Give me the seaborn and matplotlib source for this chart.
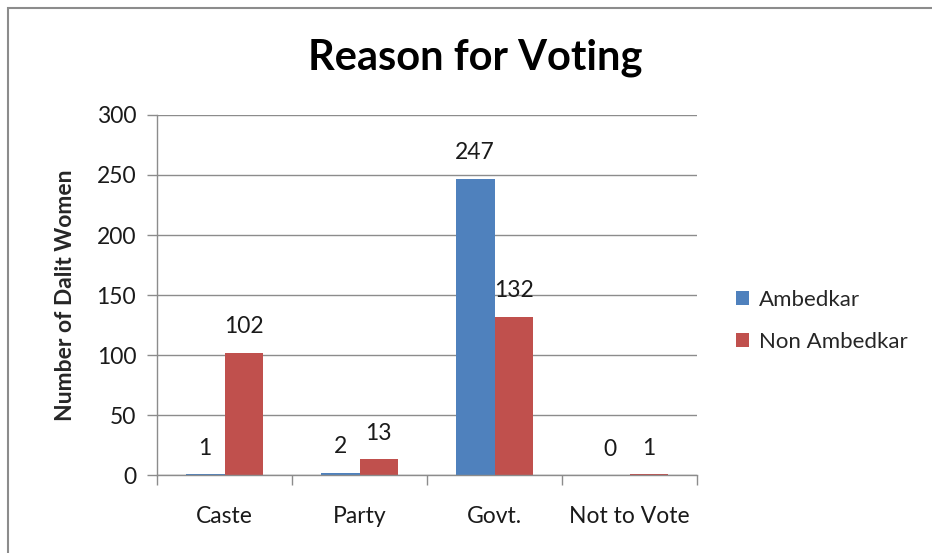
import matplotlib
matplotlib.use("Agg")
import matplotlib.pyplot as plt
import seaborn as sns
import pandas as pd
from matplotlib.patches import Rectangle, Patch

categories = ["Caste", "Party", "Govt.", "Not to Vote"]
series_names = ["Ambedkar", "Non Ambedkar"]
ambedkar = [1, 2, 247, 0]
non_ambedkar = [102, 13, 132, 1]
yticks = [0, 50, 100, 150, 200, 250, 300]

colors = ["#4F81BD", "#C0504D"]

df = pd.DataFrame({
    "Reason": categories * 2,
    "Series": [series_names[0]] * 4 + [series_names[1]] * 4,
    "Count": ambedkar + non_ambedkar,
})

sns.set_theme(style="white")
plt.rcParams["font.family"] = ["Lato", "DejaVu Sans"]

fs = 16.5

fig = plt.figure(figsize=(9.32, 5.53), dpi=100)
fig.patches.append(Rectangle((8 / 932, -0.1), 1.2, (553 - 8) / 553 + 0.1,
                             transform=fig.transFigure, fill=False,
                             edgecolor="#8C8C8C", linewidth=1.5))
ax = fig.add_axes([157 / 932, (553 - 475) / 553, (697 - 157) / 932, (475 - 115) / 553])

sns.barplot(data=df, x="Reason", y="Count", hue="Series", palette=colors,
            width=0.5714, gap=0, ax=ax, legend=False, saturation=1,
            edgecolor="none")

for cont in ax.containers:
    ax.bar_label(cont, padding=11, fontsize=fs, color="#1a1a1a")

ax.set_ylim(0, 300)
ax.set_yticks(yticks)
ax.set_xlim(-0.5, 3.5)
ax.set_xlabel("")
ax.set_ylabel("Number of Dalit Women", fontsize=fs, fontweight="bold", labelpad=15)
fig.text(475 / 932, 1 - 58 / 553, "Reason for Voting", fontsize=30, fontweight="bold",
         color="#000000", ha="center", va="center")

ax.yaxis.grid(True, color="#8C8C8C", linewidth=1)
ax.set_axisbelow(True)
for s in ["top", "right"]:
    ax.spines[s].set_visible(False)
for s in ["left", "bottom"]:
    ax.spines[s].set_color("#8C8C8C")
    ax.spines[s].set_linewidth(1)

ax.tick_params(axis="y", which="major", length=7, width=1, color="#8C8C8C",
               labelsize=fs, labelcolor="#1a1a1a", pad=8, left=True)
ax.set_xticks([-0.5, 0.5, 1.5, 2.5, 3.5], minor=True)
ax.tick_params(axis="x", which="minor", length=7, width=1, color="#8C8C8C", bottom=True)
ax.tick_params(axis="x", which="major", length=0, labelsize=fs, labelcolor="#1a1a1a", pad=22)

handles = [Patch(facecolor=c, edgecolor="none", label=n) for c, n in zip(colors, series_names)]
fig.legend(handles=handles, loc="center left", bbox_to_anchor=(716 / 932, 1 - 321 / 553),
           frameon=False, fontsize=16, handlelength=0.6, handleheight=0.6,
           handletextpad=0.45, labelspacing=1.0)

fig.savefig("out.png", dpi=100)
